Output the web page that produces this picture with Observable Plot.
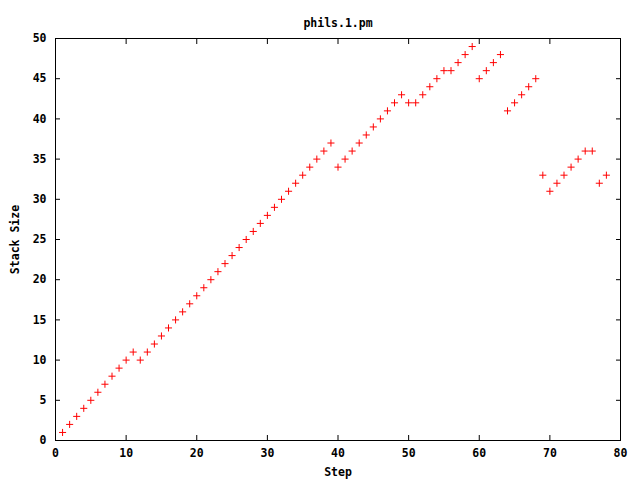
<!DOCTYPE html>
<html><head><meta charset="utf-8">
<script src="https://cdn.jsdelivr.net/npm/d3@7"></script>
<script src="https://cdn.jsdelivr.net/npm/@observablehq/plot@0.6"></script>
<style>body{margin:0;background:#fff}</style>
</head><body><div id="c"></div>
<script>
const title = "phils.1.pm";
const xLabel = "Step";
const yLabel = "Stack Size";
const steps = [1,2,3,4,5,6,7,8,9,10,11,12,13,14,15,16,17,18,19,20,21,22,23,24,25,26,27,28,29,30,31,32,33,34,35,36,37,38,39,40,41,42,43,44,45,46,47,48,49,50,51,52,53,54,55,56,57,58,59,60,61,62,63,64,65,66,67,68,69,70,71,72,73,74,75,76,77,78];
const stackSize = [1,2,3,4,5,6,7,8,9,10,11,10,11,12,13,14,15,16,17,18,19,20,21,22,23,24,25,26,27,28,29,30,31,32,33,34,35,36,37,34,35,36,37,38,39,40,41,42,43,42,42,43,44,45,46,46,47,48,49,45,46,47,48,41,42,43,44,45,33,31,32,33,34,35,36,36,32,33];
const xTicks = [0,10,20,30,40,50,60,70,80];
const yTicks = [0,5,10,15,20,25,30,35,40,45,50];

const data = steps.map((s, i) => ({step: s, size: stackSize[i]}));
const plus = {draw(ctx, size) {
  const r = Math.sqrt(size) / 2;
  ctx.moveTo(-r, 0); ctx.lineTo(r, 0);
  ctx.moveTo(0, -r); ctx.lineTo(0, r);
}};

const chart = Plot.plot({
  width: 640, height: 480,
  marginLeft: 55, marginRight: 20, marginTop: 38, marginBottom: 40,
  style: {fontFamily: "DejaVu Sans Mono", fontWeight: "bold", fontSize: "11.5px", background: "#fff", color: "#000"},
  x: {domain: [0, 80]},
  y: {domain: [0, 50]},
  marks: [
    Plot.axisX({ticks: xTicks, tickSize: -5, tickPadding: 13, label: xLabel, labelAnchor: "center", labelArrow: "none", labelOffset: 35}),
    Plot.axisX({anchor: "top", ticks: xTicks, tickSize: -5, tickFormat: () => "", label: null}),
    Plot.axisY({ticks: yTicks, tickSize: -5, tickPadding: 14, label: yLabel, labelAnchor: "center", labelArrow: "none", labelOffset: 45}),
    Plot.axisY({anchor: "right", ticks: yTicks, tickSize: -5, tickFormat: () => "", label: null}),
    Plot.frame({stroke: "#000", strokeWidth: 1}),
    Plot.dot(data, {x: "step", y: "size", symbol: plus, r: 4, stroke: "red", fill: "none", strokeWidth: 1}),
    Plot.text([title], {frameAnchor: "top", dy: -20, fontWeight: "bold"})
  ]
});
document.getElementById("c").appendChild(chart);
</script>
</body></html>
